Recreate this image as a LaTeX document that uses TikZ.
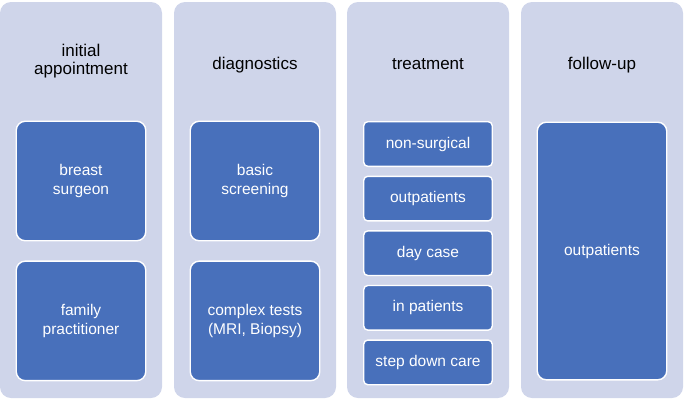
\documentclass[tikz,border=0pt]{standalone}
\usepackage{fontspec}
\setmainfont{Liberation Sans}
\usetikzlibrary{positioning}
\definecolor{lavender}{HTML}{CFD5EA}
\definecolor{boxblue}{HTML}{4870BB}

\begin{document}
\begin{tikzpicture}[
  x=1pt, y=-1pt,
  node distance=8.6pt,
  column/.style={fill=lavender, rounded corners=11pt, minimum width=162pt, minimum height=396pt, inner sep=0pt},
  heading/.style={font=\fontsize{17}{18.5}\selectfont, text=black, align=center},
  bigbox/.style={draw=white, line width=1.4pt, fill=boxblue, rounded corners=9pt, text=white, align=center, minimum width=129.5pt, minimum height=119.5pt, inner sep=0pt, font=\fontsize{15.5}{18.5}\selectfont},
  smallbox/.style={draw=white, line width=1.4pt, fill=boxblue, rounded corners=4pt, text=white, align=center, minimum width=128.5pt, minimum height=44.6pt, inner sep=0pt, font=\fontsize{15.5}{18.5}\selectfont}
]
\useasboundingbox (0,0) rectangle (685,400);

% Columns
\node[column] (initial) at (81,200) {};
\node[column] (diag) at (255,200) {};
\node[column] (treat) at (428,200) {};
\node[column] (follow) at (602,200) {};

% Headings
\node[heading] (initialhead) at (81,61) {initial\\appointment};
\node[heading, anchor=base] (diaghead) at (255,69) {diagnostics};
\node[heading, anchor=base] (treathead) at (428,69) {treatment};
\node[heading, anchor=base] (followhead) at (602,69) {follow-up};

% initial appointment
\node[bigbox] (surgeon) at (81,181) {breast\\surgeon};
\node[bigbox, below=19pt of surgeon] (practitioner) {family\\practitioner};

% diagnostics
\node[bigbox] (screening) at (255,181) {basic\\screening};
\node[bigbox, below=19pt of screening] (complex) {complex tests\\ (MRI, Biopsy)};

% treatment
\node[smallbox] (nonsurg) at (428,144) {non-surgical};
\node[smallbox, below=of nonsurg] (outpat) {outpatients};
\node[smallbox, below=of outpat] (daycase) {day case};
\node[smallbox, below=of daycase] (inpat) {in patients};
\node[smallbox, below=of inpat] (stepdown) {step down care};

% follow-up
\node[bigbox, minimum height=257.6pt] (followout) at (602,251) {outpatients};
\end{tikzpicture}
\end{document}
